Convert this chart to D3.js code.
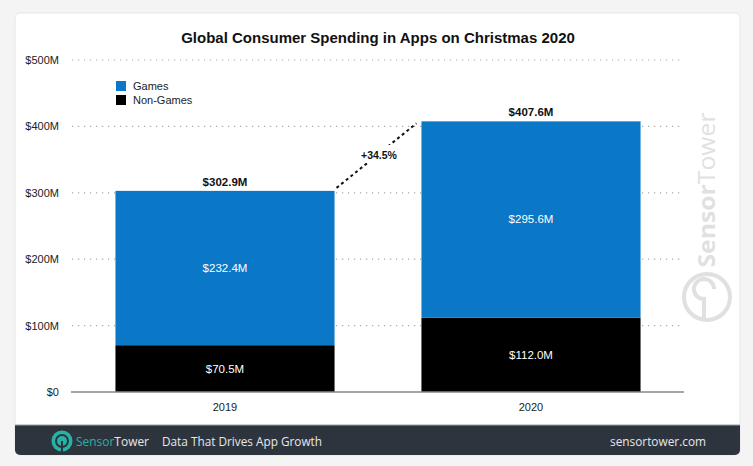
<!DOCTYPE html>
<html><head><meta charset="utf-8">
<script src="https://cdn.jsdelivr.net/npm/d3@7"></script>
<style>
html,body{margin:0;padding:0;background:#f4f4f4;}
svg{display:block;font-family:"Liberation Sans",Arial,Helvetica,sans-serif;}
</style></head>
<body>
<svg id="c" width="753" height="466"></svg>
<script>
const years = ["2019", "2020"];
const nonGames = [70.5, 112.0];
const games = [232.4, 295.6];
const totals = [302.9, 407.6];
const yTicks = [0, 100, 200, 300, 400, 500];
const tickLabels = ["$0", "$100M", "$200M", "$300M", "$400M", "$500M"];
const seriesNames = ["Games", "Non-Games"];
const growthLabel = "+34.5%";

const svg = d3.select("#c");
const blue = "#0a78c6";

// card
svg.append("rect").attr("x", 15).attr("y", 13).attr("width", 725).attr("height", 442)
  .attr("rx", 5).attr("fill", "#fff").attr("stroke", "#e6e6e6");
// footer
const fy = 425;
svg.append("path").attr("d", `M15,${fy} H740 V450 a5,5 0 0 1 -5,5 H20 a5,5 0 0 1 -5,-5 Z`).attr("fill", "#2e343e");
svg.append("line").attr("x1", 15).attr("x2", 740).attr("y1", fy).attr("y2", fy).attr("stroke", "#9aa0a6").attr("stroke-width", 1);

svg.append("text").attr("x", 378).attr("y", 43).attr("text-anchor", "middle")
  .attr("font-size", 15).attr("font-weight", "bold").attr("fill", "#111")
  .text("Global Consumer Spending in Apps on Christmas 2020");

const y = d3.scaleLinear().domain([0, 500]).range([392, 60]);
const x = d3.scaleBand().domain(years).range([72, 684]).paddingInner(0.284).paddingOuter(0.142);

// grid
const g = svg.append("g");
g.selectAll("line.grid").data(yTicks.filter(d => d > 0)).join("line")
  .attr("x1", 72).attr("x2", 684).attr("y1", d => y(d)).attr("y2", d => y(d))
  .attr("stroke", "#aaa").attr("stroke-width", 1.2).attr("stroke-dasharray", "1.2,4.8");
g.selectAll("text.tick").data(yTicks).join("text")
  .attr("x", 59).attr("y", d => y(d) + 4).attr("text-anchor", "end")
  .attr("font-size", 11).attr("fill", "#222")
  .text((d, i) => tickLabels[i]);

// watermark
const wm = svg.append("g").attr("transform", "translate(707,190) rotate(-90)").attr("opacity", 0.16);
wm.append("text").attr("x", 0).attr("y", 0).attr("text-anchor", "middle").attr("dy", "0.35em")
  .attr("font-size", 24).attr("font-family", "'Open Sans',sans-serif").attr("fill", "#444")
  .attr("textLength", 155).attr("lengthAdjust", "spacingAndGlyphs")
  .html('<tspan font-weight="bold">Sensor</tspan>Tower');
const wl = svg.append("g").attr("transform", "translate(707,297)").attr("opacity", 0.16);
wl.append("circle").attr("r", 23).attr("fill", "none").attr("stroke", "#444").attr("stroke-width", 4);
wl.append("path").attr("d", "M-3,21 V2 a10,10 0 1 1 10,-10").attr("fill", "none").attr("stroke", "#444").attr("stroke-width", 4);

// bars
const bars = svg.append("g");
bars.selectAll("rect.ng").data(years).join("rect")
  .attr("x", d => x(d)).attr("width", x.bandwidth())
  .attr("y", (d, i) => y(nonGames[i])).attr("height", (d, i) => y(0) - y(nonGames[i]))
  .attr("fill", "#000");
bars.selectAll("rect.g").data(years).join("rect")
  .attr("x", d => x(d)).attr("width", x.bandwidth())
  .attr("y", (d, i) => y(nonGames[i] + games[i])).attr("height", (d, i) => y(nonGames[i]) - y(nonGames[i] + games[i]))
  .attr("fill", blue);

bars.selectAll("text.ngl").data(years).join("text")
  .attr("x", d => x(d) + x.bandwidth() / 2).attr("y", (d, i) => (y(0) + y(nonGames[i])) / 2 + 4)
  .attr("text-anchor", "middle").attr("font-size", 11.5).attr("fill", "#fff")
  .text((d, i) => "$" + nonGames[i].toFixed(1) + "M");
bars.selectAll("text.gl").data(years).join("text")
  .attr("x", d => x(d) + x.bandwidth() / 2).attr("y", (d, i) => (y(nonGames[i]) + y(nonGames[i] + games[i])) / 2 + 4)
  .attr("text-anchor", "middle").attr("font-size", 11.5).attr("fill", "#fff")
  .text((d, i) => "$" + games[i].toFixed(1) + "M");
bars.selectAll("text.tl").data(years).join("text")
  .attr("x", d => x(d) + x.bandwidth() / 2).attr("y", (d, i) => y(totals[i]) - 5)
  .attr("text-anchor", "middle").attr("font-size", 11.5).attr("font-weight", "bold").attr("fill", "#111")
  .text((d, i) => "$" + totals[i].toFixed(1) + "M");

// baseline
svg.append("line").attr("x1", 71).attr("x2", 684).attr("y1", y(0)).attr("y2", y(0)).attr("stroke", "#888").attr("stroke-width", 1.5);
svg.selectAll("text.yr").data(years).join("text")
  .attr("x", d => x(d) + x.bandwidth() / 2).attr("y", 411).attr("text-anchor", "middle")
  .attr("font-size", 11).attr("fill", "#222").text(d => d);

// growth line
const x0 = x(years[0]) + x.bandwidth() + 2, x1 = x(years[1]) - 5;
svg.append("line").attr("x1", x0).attr("y1", y(totals[0]) - 3).attr("x2", x1).attr("y2", y(totals[1]) + 2)
  .attr("stroke", "#111").attr("stroke-width", 2).attr("stroke-dasharray", "3,3");
svg.append("rect").attr("x", 358).attr("y", 145).attr("width", 42).attr("height", 18).attr("fill", "#fff");
svg.append("text").attr("x", 379).attr("y", 159).attr("text-anchor", "middle")
  .attr("font-size", 10.5).attr("font-weight", "bold").attr("fill", "#111").text(growthLabel);

// legend
const lg = svg.append("g").attr("transform", "translate(116,81)");
[blue, "#000"].forEach((c, i) => {
  lg.append("rect").attr("x", 0).attr("y", i * 14).attr("width", 10).attr("height", 10).attr("fill", c);
  lg.append("text").attr("x", 17).attr("y", i * 14 + 9).attr("font-size", 11).attr("fill", "#222").text(seriesNames[i]);
});

// footer content
const teal = "#27b3a3";
const fl = svg.append("g").attr("transform", "translate(62,441)");
fl.append("circle").attr("r", 10.5).attr("fill", teal);
fl.append("circle").attr("r", 6).attr("fill", "none").attr("stroke", "#2e343e").attr("stroke-width", 2);
fl.append("line").attr("x1", 0).attr("x2", 0).attr("y1", 0).attr("y2", 11).attr("stroke", "#2e343e").attr("stroke-width", 2);
svg.append("text").attr("x", 76).attr("y", 446).attr("font-size", 13).attr("font-family", "'Open Sans',sans-serif")
  .attr("textLength", 73).attr("lengthAdjust", "spacingAndGlyphs")
  .html(`<tspan fill="${teal}">Sensor</tspan><tspan fill="#e6e8ea">Tower</tspan>`);
svg.append("text").attr("x", 162).attr("y", 446).attr("font-size", 13).attr("font-family", "'Open Sans',sans-serif")
  .attr("fill", "#e6e8ea").attr("textLength", 160).attr("lengthAdjust", "spacingAndGlyphs").text("Data That Drives App Growth");
svg.append("text").attr("x", 706).attr("y", 446).attr("text-anchor", "end").attr("font-size", 13).attr("font-family", "'Open Sans',sans-serif")
  .attr("fill", "#e6e8ea").attr("textLength", 96).attr("lengthAdjust", "spacingAndGlyphs").text("sensortower.com");
</script>
</body></html>
